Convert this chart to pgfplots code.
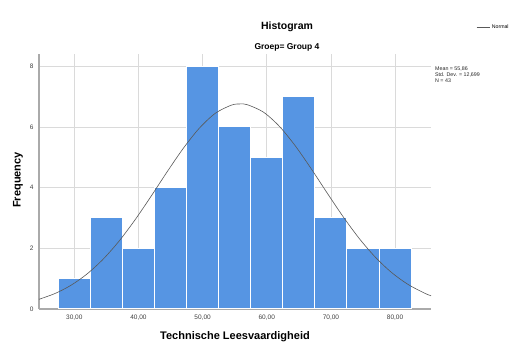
\documentclass[border=0pt]{standalone}
\usepackage{pgfplots}
\pgfplotsset{compat=1.18}
\usepackage{fontspec}
\setmainfont{Liberation Sans}
\definecolor{barblue}{RGB}{86,149,227}
\definecolor{gridgray}{RGB}{218,218,218}
\definecolor{axisgray}{RGB}{170,170,170}
\begin{document}
\begin{tikzpicture}
\useasboundingbox (0pt,0pt) rectangle (515pt,345pt);
\begin{axis}[
  at={(39pt,36pt)}, anchor=south west,
  scale only axis, width=392pt, height=255pt,
  xmin=24.5, xmax=85.6, ymin=0, ymax=8.4,
  axis x line*=bottom, axis y line*=left,
  axis line style={axisgray, line width=1.2pt},
  xtick={30,40,50,60,70,80},
  xticklabels={{30,00},{40,00},{50,00},{60,00},{70,00},{80,00}},
  ytick={0,2,4,6,8},
  major tick length=0pt,
  grid=major, grid style={gridgray, line width=0.6pt},
  tick label style={font=\fontsize{6.5}{7}\selectfont, text=black!75},
  /pgf/number format/assume math mode=true,
  xticklabel style={yshift=-2pt},
  yticklabel style={xshift=-2pt},
  legend style={at={(1.115,1.106)}, anchor=west, draw=none, fill=none,
    font=\fontsize{5.2}{6}\selectfont, inner sep=0pt},
  legend cell align=left,
  legend image code/.code={\draw[#1] (0pt,0pt) -- (13pt,0pt);},
]
\addplot[ybar interval, fill=barblue, draw=white, line width=1pt, forget plot]
  table[x=x, y=y] {
x y
27.5 1
32.5 3
37.5 2
42.5 4
47.5 8
52.5 6
57.5 5
62.5 7
67.5 3
72.5 2
77.5 2
82.5 2
};
\addplot[smooth, black!65, line width=0.6pt] coordinates {
(24.5,0.3202) (27,0.5106) (29.5,0.7834) (32,1.1564) (34.5,1.6415)
(37,2.2422) (39.5,2.9458) (42,3.7235) (44.5,4.5276) (47,5.2958)
(49.5,5.9589) (52,6.4500) (54.5,6.7164) (55.86,6.755) (57,6.7278)
(59.5,6.4831) (62,6.0098) (64.5,5.3591) (67,4.5976) (69.5,3.7939)
(72,3.0119) (74.5,2.3003) (77,1.6899) (79.5,1.1943) (82,0.8121)
(84.5,0.5310) (85.6,0.4352)
};
\addlegendentry{Normal}
\end{axis}
\node[font=\bfseries\fontsize{10.5}{12}\selectfont] at (287pt,318pt) {Histogram};
\node[font=\bfseries\fontsize{8.5}{10}\selectfont] at (287pt,298pt) {Groep= Group 4};
\node[font=\bfseries\fontsize{11}{13}\selectfont] at (235pt,8pt) {Technische Leesvaardigheid};
\node[font=\bfseries\fontsize{11}{13}\selectfont, rotate=90] at (18pt,165pt) {Frequency};
\node[font=\fontsize{5.3}{6}\selectfont, anchor=north west, align=left, inner sep=0pt, text=black!85] at (435pt,278pt) {Mean = 55,86\\Std. Dev. = 12,699\\N = 43};
\end{tikzpicture}
\end{document}
